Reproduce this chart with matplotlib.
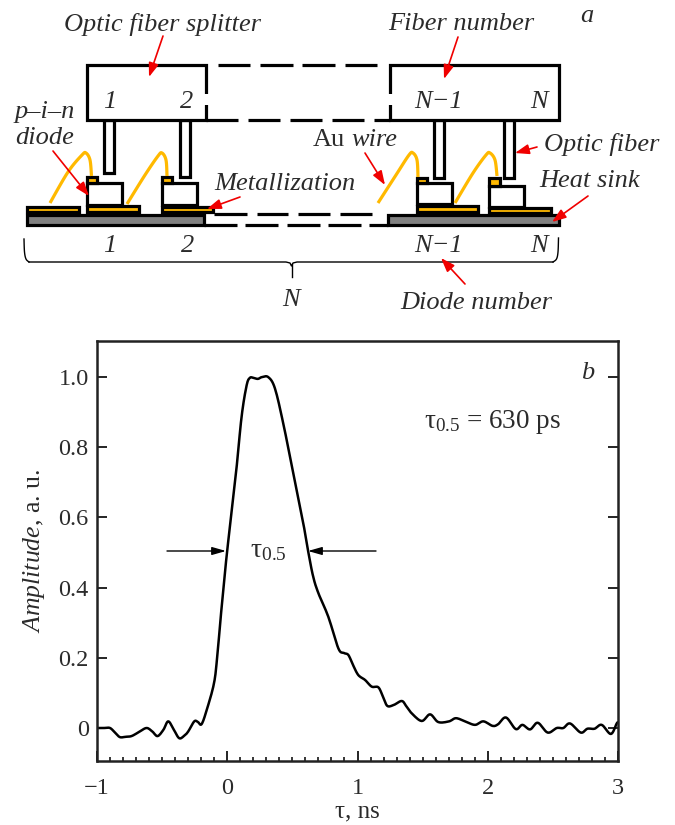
import numpy as np
import matplotlib
matplotlib.use("Agg")
import matplotlib.pyplot as plt
from matplotlib.patches import Rectangle
from matplotlib.ticker import MultipleLocator, FixedLocator, FuncFormatter

plt.rcParams['font.family'] = ['Liberation Serif', 'DejaVu Serif']
plt.rcParams['mathtext.fontset'] = 'custom'
plt.rcParams['mathtext.rm'] = 'Liberation Serif'
plt.rcParams['mathtext.it'] = 'Liberation Serif:italic'
plt.rcParams['mathtext.bf'] = 'Liberation Serif:bold'

# ---- pulse data (panel b) ----
tau_ns = [-1.0, -0.95, -0.90, -0.86, -0.824, -0.78, -0.735, -0.68, -0.62, -0.575, -0.535, -0.49, -0.453, -0.41, -0.369, -0.33,
          -0.30, -0.253, -0.225, -0.197, -0.158, -0.102, -0.077, -0.05, -0.025, 0.0, 0.067, 0.11, 0.149, 0.174, 0.20, 0.235,
          0.265, 0.315, 0.366, 0.43, 0.507, 0.584, 0.622, 0.66, 0.70, 0.776, 0.853, 0.895, 0.93, 0.965, 1.006, 1.058, 1.109, 1.16,
          1.195, 1.229, 1.28, 1.34, 1.375, 1.416, 1.493, 1.557, 1.62, 1.703, 1.756, 1.826, 1.902, 1.966, 2.038, 2.08, 2.14,
          2.215, 2.266, 2.325, 2.384, 2.46, 2.53, 2.58, 2.632, 2.714, 2.765, 2.82, 2.875, 2.945, 2.99, 3.0]
amplitude = [0.0, 0.0, 0.0, -0.014, -0.026, -0.025, -0.023, -0.012, 0.0, -0.010, -0.023, -0.005, 0.019, -0.005, -0.029, -0.022,
             -0.01, 0.019, 0.017, 0.011, 0.051, 0.127, 0.203, 0.317, 0.413, 0.507, 0.726, 0.887, 0.977, 0.998, 0.998, 0.995,
             1.0, 1.0, 0.968, 0.868, 0.726, 0.583, 0.502, 0.431, 0.384, 0.317, 0.227, 0.214, 0.208, 0.18, 0.151, 0.137, 0.118, 0.116,
             0.09, 0.063, 0.066, 0.077, 0.062, 0.042, 0.02, 0.039, 0.017, 0.019, 0.028, 0.019, 0.009, 0.019, 0.006, 0.011, 0.03,
             -0.003, 0.009, -0.004, 0.015, -0.013, 0.0, 0.0, 0.013, -0.013, -0.002, -0.002, 0.009, -0.017, 0.013, 0.016]
x_ticks = [-1, 0, 1, 2, 3]
y_ticks = [0, 0.2, 0.4, 0.6, 0.8, 1.0]
y_labels = ['0', '0.2', '0.4', '0.6', '0.8', '1.0']

INK = '#2b2b2b'
YEL = '#FFB900'
W, H = 675, 825


def smooth(px, py, n=8):
    """Catmull-Rom drawing path through the given points."""
    p = np.column_stack([px, py]).astype(float)
    p = np.vstack([p[0], p, p[-1]])
    u = np.linspace(0, 1, n, endpoint=False)[:, None]
    out = []
    for i in range(1, len(p) - 2):
        a, b, c, d = p[i - 1], p[i], p[i + 1], p[i + 2]
        out.append(0.5 * (2 * b + (c - a) * u + (2 * a - 5 * b + 4 * c - d) * u ** 2 + (3 * b - a - 3 * c + d) * u ** 3))
    out.append(p[-2][None, :])
    out = np.vstack(out)
    return out[:, 0], out[:, 1]


fig = plt.figure(figsize=(6.75, 8.25), dpi=100, facecolor='white')

# ---- panel a: schematic drawn in a pixel-space axes ----
sk = fig.add_axes([0, 0, 1, 1])
sk.set_xlim(0, W)
sk.set_ylim(H, 0)
sk.axis('off')
LW = 2.3


def rect(x0, y0, x1, y1, fc='white', lw=LW, z=3):
    sk.add_patch(Rectangle((x0, y0), x1 - x0, y1 - y0, fc=fc, ec='black', lw=lw, zorder=z, joinstyle='miter'))


def hl(x0, x1, y, lw=LW):
    sk.plot([x0, x1], [y, y], color='black', lw=lw, solid_capstyle='butt', zorder=3)


# splitter
rect(87, 65, 206, 120)
rect(390, 65, 559, 120)
for a, b in [(218, 250), (260, 293), (302, 335), (345, 377)]:
    hl(a, b, 65)
for a, b in [(206, 238), (248, 280), (290, 322), (332, 364), (374, 390)]:
    hl(a, b, 120)
for x in (206, 390):
    sk.add_patch(Rectangle((x - 3, 94), 6, 11, fc='white', ec='none', zorder=4))

# heat sink
rect(27, 214.5, 204, 225, fc='#808080')
rect(388, 214.5, 559, 225, fc='#808080')
for a, b in [(214, 247), (257, 288), (298, 330), (340, 372)]:
    hl(a, b, 214)
for a, b in [(204, 237), (245, 278), (287, 320), (328, 361), (369, 388)]:
    hl(a, b, 225)

# fibres
for x0, x1, yb in [(104, 114, 173), (180, 190, 177), (434, 444, 178), (504, 514, 178)]:
    rect(x0, 120, x1, yb, z=2)

# metallisation pads
for x0, y0, x1, y1 in [(27, 206.8, 79, 212.3), (87, 206, 139, 212.3), (162, 206.8, 213, 212.3),
                       (417, 205.6, 478, 212.3), (489, 208, 551, 212.8)]:
    rect(x0, y0, x1, y1, fc=YEL, z=4)

# diode chips and top contacts
for x0, y0, x1, y1, cy, cx in [(87, 183, 122, 205, 176.5, 97), (162, 183, 197, 205, 176.5, 172),
                               (417, 183, 452, 204, 177.5, 427), (489, 186, 524, 207, 177.5, 500)]:
    rect(x0, y0, x1, y1, z=3)
    rect(x0, cy, cx, y0, fc=YEL, z=5)

# bond wires
wires = [([50, 68, 82, 86, 90, 91.5], [203, 172, 155, 153, 160, 176]),
         ([127, 145, 158, 162, 166, 167], [204, 175, 156, 153, 160, 176]),
         ([378, 396, 409, 413, 417, 418], [203, 175, 155, 153, 160, 177]),
         ([455, 473, 486, 490, 495, 497], [203, 173, 155, 153, 160, 176])]
for wx, wy in wires:
    sx, sy = smooth(wx, wy)
    sk.plot(sx, sy, color=YEL, lw=2.3, solid_capstyle='butt', zorder=6)

# brace
bx, by = smooth([24, 24.5, 26, 29], [239, 252, 259, 262])
sk.plot(bx, by, color='black', lw=1, zorder=3)
bx, by = smooth([553, 556.5, 558, 558.5], [262, 259, 252, 238])
sk.plot(bx, by, color='black', lw=1, zorder=3)
sk.plot([29, 286, 290, 291.5, 293, 297, 553], [262, 262, 263, 266, 263, 262, 262], color='black', lw=1, zorder=3)
sk.plot([291.5, 291.5], [264, 277], color='black', lw=1, zorder=3)

# red arrows
for (x0, y0), (x1, y1) in [((163, 36), (149, 77)), ((53, 151), (89, 196)), ((240, 197), (207, 209)),
                           ((458, 37), (444, 79)), ((365, 153), (385, 185)), ((537, 147), (515, 153)),
                           ((588, 196), (552, 222)), ((465, 284), (441, 258))]:
    sk.annotate('', xy=(x1, y1), xytext=(x0, y0), zorder=8,
                arrowprops=dict(arrowstyle='-|>,head_length=0.7,head_width=0.25', color='#F00000', lw=1.2,
                                shrinkA=0, shrinkB=0, mutation_scale=12))

FS = 19
for s, x, y in [('Optic fiber splitter', 162, 24), ('Fiber number', 461, 24), ('a', 587, 16),
                ('1', 110, 102), ('2', 187, 102), ('N\u22121', 439, 102), ('N', 539, 102),
                ('p\u2013i\u2013n', 45, 112), ('diode', 45, 138), ('wire', 374, 140),
                ('Metallization', 285, 184), ('Optic fiber', 602, 144), ('Heat sink', 590, 181),
                ('1', 110, 246), ('2', 188, 246), ('N\u22121', 439, 246), ('N', 539, 246),
                ('N', 291, 300), ('Diode number', 476, 303)]:
    sk.text(x, y, s, style='italic', fontsize=FS, color=INK, ha='center', va='center', zorder=9)
sk.text(329, 140, 'Au', fontsize=FS, color=INK, ha='center', va='center', zorder=9)

# ---- panel b: pulse ----
L, R, T, B = 97, 618, 341, 761
ax = fig.add_axes([L / W, 1 - B / H, (R - L) / W, (B - T) / H])
ax.patch.set_alpha(0)
sx, sy = smooth(tau_ns, amplitude)
ax.plot(sx, sy, color='black', lw=1.8, solid_joinstyle='round', clip_on=True)
ax.set_xlim(-1, 3)
ax.set_ylim(-0.094, 1.103)
for s in ax.spines.values():
    s.set_linewidth(1.8)
    s.set_color('#222222')
ax.xaxis.set_major_locator(FixedLocator(x_ticks))
ax.xaxis.set_minor_locator(MultipleLocator(0.1))
ax.yaxis.set_major_locator(FixedLocator(y_ticks))
ax.yaxis.set_major_formatter(FuncFormatter(lambda v, p: y_labels[p] if p is not None and p < len(y_labels) else ''))
ax.xaxis.set_major_formatter(FuncFormatter(lambda v, p: ('\u2212%d' % abs(v)) if v < 0 else '%d' % v))
ax.tick_params(axis='both', which='major', direction='in', length=7.5, width=1.2, labelsize=17.5, labelcolor=INK, pad=6)
ax.tick_params(axis='x', which='minor', direction='in', length=3.2, width=1.1, top=False)
ax.tick_params(axis='y', which='major', right=True)
ax.tick_params(axis='x', which='major', pad=12)
ax.set_xlabel('\u03c4, ns', fontsize=18, color=INK, labelpad=1)
ax.set_ylabel(r'$\mathit{Amplitude}$, a. u.', fontsize=18.5, color=INK, labelpad=8)

# annotations placed in pixel space
for (x0, x1) in [(167, 226), (376, 308)]:
    sk.annotate('', xy=(x1, 551), xytext=(x0, 551), zorder=8,
                arrowprops=dict(arrowstyle='-|>,head_length=0.7,head_width=0.2', color='black', lw=1,
                                shrinkA=0, shrinkB=0, mutation_scale=12))
sk.text(268, 551, '\u03c4$_{0.5}$', fontsize=20, color=INK, ha='center', va='center', zorder=9)
sk.text(424, 422, '\u03c4$_{0.5}$ = 630 ps', fontsize=19.5, color=INK, ha='left', va='center', zorder=9)
sk.text(588, 373, 'b', style='italic', fontsize=19, color=INK, ha='center', va='center', zorder=9)

fig.savefig('out.png', dpi=100)
